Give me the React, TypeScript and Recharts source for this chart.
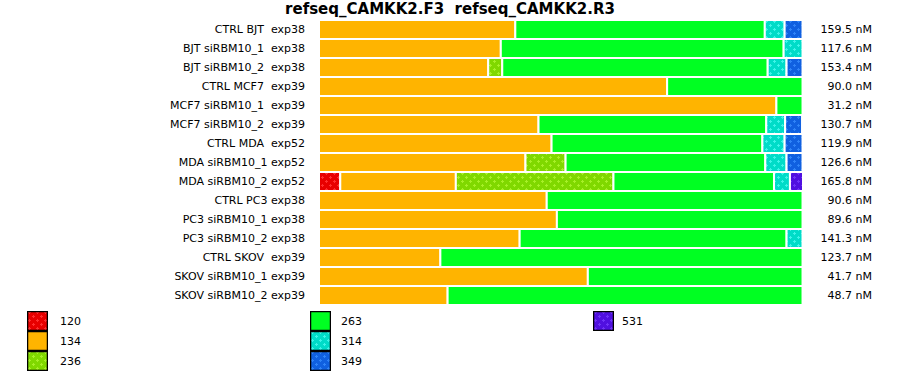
import React from "react";
import { BarChart, Bar, XAxis, YAxis } from "recharts";

const title = "refseq_CAMKK2.F3  refseq_CAMKK2.R3";

const rowLabels = [
  "CTRL BJT  exp38",
  "BJT siRBM10_1  exp38",
  "BJT siRBM10_2  exp38",
  "CTRL MCF7  exp39",
  "MCF7 siRBM10_1  exp39",
  "MCF7 siRBM10_2  exp39",
  "CTRL MDA  exp52",
  "MDA siRBM10_1 exp52",
  "MDA siRBM10_2 exp52",
  "CTRL PC3 exp38",
  "PC3 siRBM10_1 exp38",
  "PC3 siRBM10_2 exp38",
  "CTRL SKOV  exp39",
  "SKOV siRBM10_1 exp39",
  "SKOV siRBM10_2 exp39",
];

const concentrations = [
  "159.5", "117.6", "153.4", "90.0", "31.2", "130.7", "119.9", "126.6",
  "165.8", "90.6", "89.6", "141.3", "123.7", "41.7", "48.7",
];

const seriesNames = ["120", "134", "236", "263", "314", "349", "531"];

// percentage shares per series, one entry per row
const v120 = [0, 0, 0, 0, 0, 0, 0, 0, 4.4, 0, 0, 0, 0, 0, 0];
const v134 = [40.6, 37.6, 35.0, 72.0, 94.6, 45.4, 48.1, 42.7, 23.9, 47.1, 49.2, 41.5, 25.1, 55.6, 26.6];
const v236 = [0, 0, 2.9, 0, 0, 0, 0, 8.3, 32.6, 0, 0, 0, 0, 0, 0];
const v263 = [51.6, 58.5, 54.9, 28.0, 5.4, 47.1, 43.6, 41.3, 33.2, 52.9, 50.8, 55.2, 74.9, 44.4, 73.4];
const v314 = [4.1, 3.9, 3.9, 0, 0, 3.9, 4.6, 4.4, 3.3, 0, 0, 3.3, 0, 0, 0];
const v349 = [3.7, 0, 3.3, 0, 0, 3.5, 3.7, 3.3, 0, 0, 0, 0, 0, 0, 0];
const v531 = [0, 0, 0, 0, 0, 0, 0, 0, 2.7, 0, 0, 0, 0, 0, 0];

const seriesValues = [v120, v134, v236, v263, v314, v349, v531];

const data = rowLabels.map((name, i) => {
  const row: Record<string, any> = { name, conc: concentrations[i] };
  seriesNames.forEach((s, k) => {
    row["s" + s] = seriesValues[k][i];
  });
  return row;
});

type Pat = { base: string; light?: string };
const styles: Record<string, Pat> = {
  "120": { base: "#e80000", light: "#ff3030" },
  "134": { base: "#ffb400" },
  "236": { base: "#80d800", light: "#a8f028" },
  "263": { base: "#00ff22" },
  "314": { base: "#00dcc8", light: "#40f4e8" },
  "349": { base: "#1060e0", light: "#3084f8" },
  "531": { base: "#5010e0", light: "#7034f8" },
};

const fillFor = (s: string) => (styles[s].light ? `url(#pat${s})` : styles[s].base);

const crossPath =
  "M1 1h1v-1h1v1h1v1h-1v1h-1v-1h-1z M5 5h1v-1h1v1h1v1h-1v1h-1v-1h-1z";

const PatternDefs = () => (
  <svg width={0} height={0} style={{ position: "absolute" }}>
    <defs>
      {seriesNames
        .filter((s) => styles[s].light)
        .map((s) => (
          <pattern key={s} id={`pat${s}`} patternUnits="userSpaceOnUse" width={8} height={8}>
            <rect x={0} y={0} width={8} height={8} fill={styles[s].base} />
            <path d={crossPath} fill={styles[s].light} />
          </pattern>
        ))}
    </defs>
  </svg>
);

const font = "'DejaVu Sans', Verdana, sans-serif";

const LeftTick = (props: any) => {
  const { x, y, payload } = props;
  return (
    <text x={x} y={y} dy="0.355em" textAnchor="end" fontSize={11} fontFamily={font} fill="#000" style={{ whiteSpace: "pre" }}>
      {payload.value}
    </text>
  );
};

const RightTick = (props: any) => {
  const { x, y, index } = props;
  return (
    <text x={x + 69} y={y} dy="0.355em" textAnchor="end" fontSize={11} fontFamily={font} fill="#000">
      {`${concentrations[index]} nM`}
    </text>
  );
};

const legendColumns = [
  ["120", "134", "236"],
  ["263", "314", "349"],
  ["531"],
];
const legendColLeft = [27, 310, 593];

const LegendBlock = () => (
  <div style={{ position: "absolute", left: 0, top: 311, width: 900, height: 64, fontFamily: font, fontSize: 11 }}>
    {legendColumns.map((col, ci) => (
      <div key={ci} style={{ position: "absolute", left: legendColLeft[ci], top: 0 }}>
        {col.map((s) => (
          <div key={s} style={{ display: "flex", alignItems: "center", height: 20 }}>
            <svg width={21} height={20} style={{ display: "block" }}>
              <rect x={0.5} y={0.5} width={20} height={19} fill={fillFor(s)} stroke="#000" strokeWidth={1.5} />
            </svg>
            <span style={{ marginLeft: ci === 0 ? 12 : ci === 1 ? 10 : 8, color: "#000" }}>{s}</span>
          </div>
        ))}
      </div>
    ))}
  </div>
);

export default function App() {
  return (
    <div style={{ position: "fixed", left: 0, top: 0, width: 900, height: 375, overflow: "hidden", background: "#fff" }}>
      <PatternDefs />
      <BarChart
        width={900}
        height={375}
        data={data}
        layout="vertical"
        margin={{ top: 20, right: 0, bottom: 70, left: 0 }}
        barCategoryGap={0}
      >
        <text
          x={450}
          y={14}
          textAnchor="middle"
          fontFamily={font}
          fontWeight="bold"
          fontSize={15}
          fill="#000"
          style={{ whiteSpace: "pre" }}
        >
          {title}
        </text>
        <XAxis type="number" domain={[0, 100]} hide />
        <YAxis
          yAxisId="left"
          type="category"
          dataKey="name"
          width={319}
          axisLine={false}
          tickLine={false}
          tickSize={0}
          tickMargin={14}
          interval={0}
          tick={<LeftTick />}
        />
        <YAxis
          yAxisId="right"
          orientation="right"
          type="category"
          dataKey="name"
          width={97}
          axisLine={false}
          tickLine={false}
          tickSize={0}
          tickMargin={0}
          interval={0}
          tick={<RightTick />}
        />
        {seriesNames.map((s) => (
          <Bar
            key={s}
            yAxisId="left"
            dataKey={"s" + s}
            name={s}
            stackId="a"
            fill={fillFor(s)}
            stroke="#ffffff"
            strokeWidth={2}
            isAnimationActive={false}
          />
        ))}
      </BarChart>
      <LegendBlock />
    </div>
  );
}
